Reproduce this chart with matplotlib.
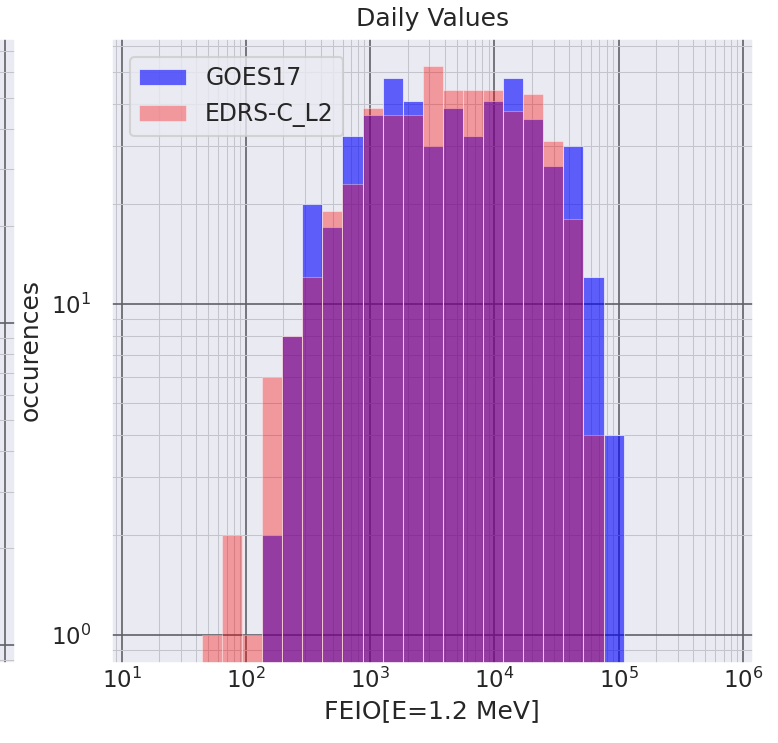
import numpy as np
import matplotlib
matplotlib.use("Agg")
import matplotlib.pyplot as plt
import seaborn as sns

# ---------------- data ----------------
bin_min = 44.3          # lower edge of first bin
bin_max = 1.098e5       # upper edge of last bin
n_bins = 21
goes17_counts = [0, 0, 0, 2, 8, 20, 17, 32, 37, 48, 41, 30, 39, 32, 41, 48, 36, 26, 30, 12, 4]
edrs_counts = [1, 2, 1, 6, 8, 12, 19, 23, 39, 37, 37, 52, 44, 44, 44, 38, 43, 31, 18, 4, 0]
series_labels = ["GOES17", "EDRS-C_L2"]
title = "Daily Values"
xlabel = "FEIO[E=1.2 MeV]"
ylabel = "occurences"

# ---------------- style ----------------
sns.set_theme(style="darkgrid")
plt.rcParams["font.family"] = ["DejaVu Sans"]

DPI = 150
fig = plt.figure(figsize=(778 / DPI, 743 / DPI), dpi=DPI)

edges = np.logspace(np.log10(bin_min), np.log10(bin_max), n_bins + 1)
xlim = (10 ** 0.915, 10 ** 6.083)


def style_grid(ax):
    ax.grid(True, which="major", color="#606068", linewidth=0.8)
    ax.grid(True, which="minor", color="#c4c4cc", linewidth=0.5)


# partial neighbouring panel at the far left
axL = fig.add_axes([0.0193 - 0.8254, 0.1083, 0.8254, 0.8405])
axL.set_xscale("log")
axL.set_yscale("log")
axL.set_xlim(xlim)
axL.set_ylim(0.885, 76.7)
axL.tick_params(labelbottom=False, labelleft=False)
style_grid(axL)

# main panel
ax = fig.add_axes([0.1427, 0.1083, 0.8254, 0.8405])
ax.hist(edges[:-1], bins=edges, weights=goes17_counts, color="blue", alpha=0.6,
        edgecolor="white", linewidth=0.5, label=series_labels[0])
ax.hist(edges[:-1], bins=edges, weights=edrs_counts, color="red", alpha=0.35,
        edgecolor="white", linewidth=0.5, label=series_labels[1])
ax.set_xscale("log")
ax.set_yscale("log")
ax.set_xlim(xlim)
ax.set_ylim(0.826, 63.3)
style_grid(ax)
ax.tick_params(axis="x", which="both", length=0, pad=2.5)
ax.set_title(title)
ax.set_xlabel(xlabel, labelpad=3)
ax.set_ylabel(ylabel)
ax.legend(loc="upper left", borderaxespad=0.8, fontsize=11.3)

fig.savefig("out.png", dpi=DPI)
